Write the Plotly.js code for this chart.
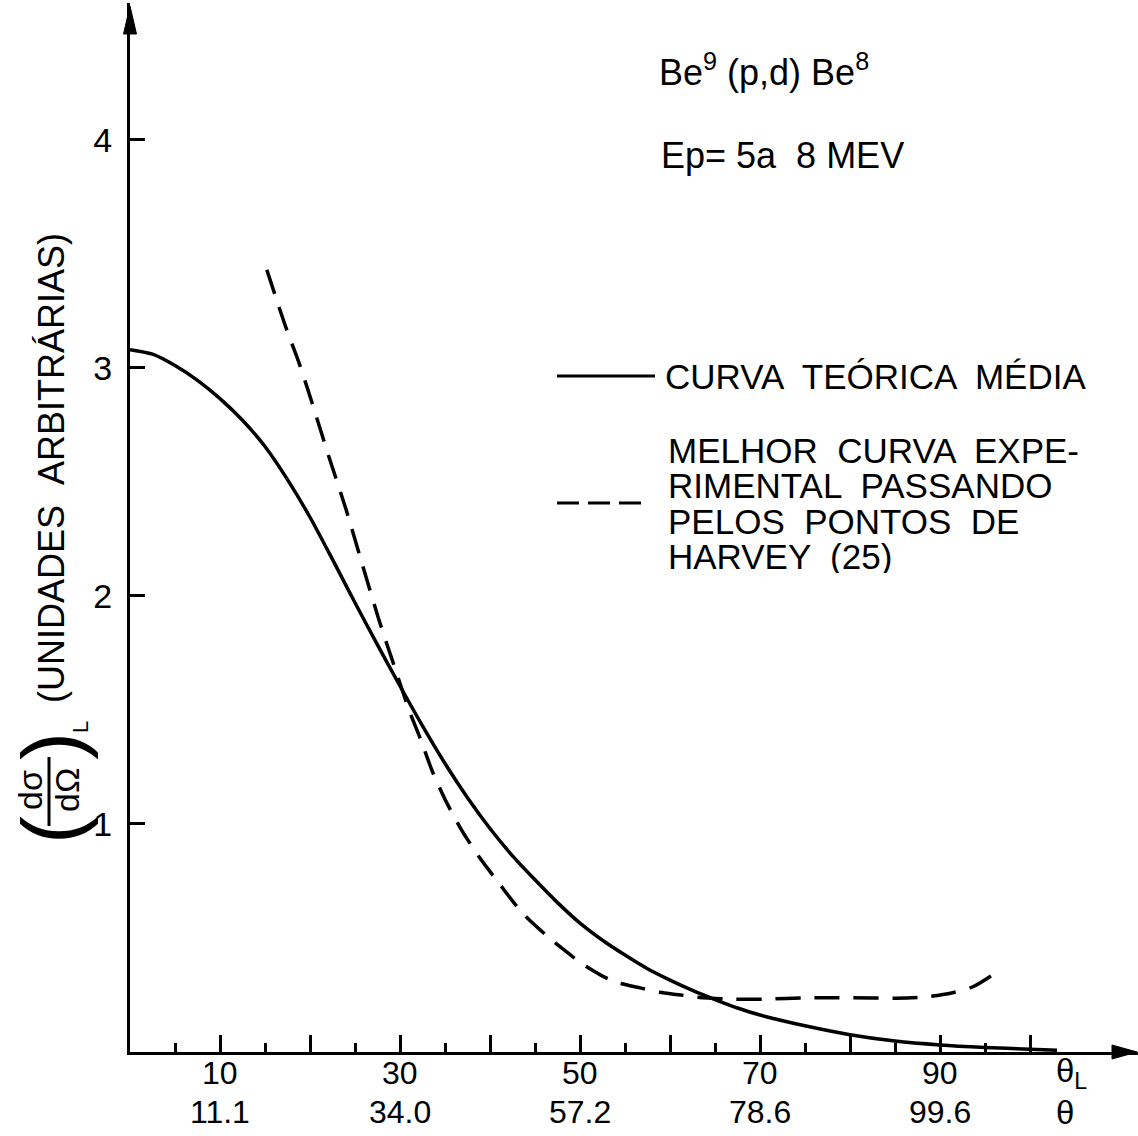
<!DOCTYPE html>
<html>
<head>
<meta charset="utf-8">
<script src="https://cdn.plot.ly/plotly-3.0.1.min.js"></script>
<style>html,body{margin:0;padding:0;background:#fff;overflow:hidden}#chart{width:1138px;height:1136px}</style>
</head>
<body>
<div id="chart"></div>
<script>
// ---- data ----
// Curva teórica média (solid)
const theoX = [0, 2.5, 5, 7.5, 10, 12.5, 15, 17.5, 20, 22.5, 25, 27.5, 30, 32.5, 35, 37.5, 40, 42.5, 45, 47.5, 50, 52.5, 55, 57.5, 60, 62.5, 65, 67.5, 70, 75, 80, 85, 90, 95, 100, 103];
const theoY = [3.08, 3.06, 3.01, 2.945, 2.865, 2.77, 2.655, 2.51, 2.345, 2.16, 1.97, 1.785, 1.605, 1.43, 1.265, 1.115, 0.98, 0.86, 0.755, 0.655, 0.565, 0.49, 0.425, 0.365, 0.315, 0.27, 0.23, 0.193, 0.162, 0.115, 0.076, 0.048, 0.031, 0.02, 0.012, 0.008];
// Melhor curva experimental (dashed)
const expX = [15.2, 17.3, 18.8, 20.2, 22.1, 24, 25.8, 27.7, 29.3, 31, 32.3, 33.6, 35.1, 36.9, 38.8, 41, 43.6, 46.6, 48.8, 50.1, 52.4, 54.1, 56.8, 58.8, 61.2, 63, 66.6, 70.7, 75, 80, 85, 88.5, 91.4, 93.6, 96.3];
const expY = [3.43, 3.18, 3.02, 2.85, 2.61, 2.38, 2.14, 1.89, 1.70, 1.50, 1.37, 1.23, 1.10, 0.97, 0.855, 0.74, 0.61, 0.50, 0.43, 0.39, 0.335, 0.305, 0.28, 0.262, 0.25, 0.24, 0.232, 0.232, 0.237, 0.238, 0.236, 0.242, 0.26, 0.285, 0.35];
// tick labels
const thetaL = [10, 30, 50, 70, 90];
const thetaCM = ["11.1", "34.0", "57.2", "78.6", "99.6"];
const majorTicks = [10, 20, 30, 40, 50, 60, 70, 80, 90, 100];
const minorTicks = [5, 15, 25, 35, 45, 55, 65, 75, 85, 95];
const yTicks = [1, 2, 3, 4];

// ---- layout helpers (pixel -> paper) ----
const ML = 130, MT = 3, PW = 1008, PH = 1049, BASE = MT + PH;
const px = v => (v - ML) / PW;
const py = v => (BASE - v) / PH;
const FONT = "Liberation Sans, Arial, sans-serif";

const traces = [
  {x: theoX, y: theoY, mode: "lines", line: {color: "#000", width: 3.5, shape: "spline", smoothing: 0.8}, hoverinfo: "skip"},
  {x: expX, y: expY, mode: "lines", line: {color: "#000", width: 3.5, dash: "25px,14px", shape: "spline", smoothing: 0.8}, hoverinfo: "skip"}
];

function txt(text, x, y, size, opts) {
  return Object.assign({
    xref: "paper", yref: "paper", x: px(x), y: py(y), text: text, showarrow: false,
    xanchor: "left", yanchor: "middle", font: {family: FONT, size: size, color: "#000"}
  }, opts || {});
}

const annotations = [
  txt("Be<sup>9</sup> (p,d) Be<sup>8</sup>", 657, 70, 36),
  txt("Ep= 5a \u00a08 MEV", 659, 156, 36),
  txt("CURVA \u00a0TEÓRICA \u00a0MÉDIA", 663, 376, 35),
  txt("MELHOR \u00a0CURVA \u00a0EXPE-", 666, 450, 35, {height: 34}),
  txt("RIMENTAL \u00a0PASSANDO", 666, 485, 35, {height: 34}),
  txt("PELOS \u00a0PONTOS \u00a0DE", 666, 521, 35, {height: 34}),
  txt("HARVEY \u00a0(25)", 666, 556, 35, {height: 34}),
  // right-end axis labels
  txt("θ<sub>L</sub>", 1054, 1073, 33),
  txt("θ", 1054, 1112, 33),
  // y-axis title pieces (rotated)
  txt("(UNIDADES \u00a0ARBITRÁRIAS)", 51, 468, 36, {xanchor: "center", textangle: -90}),
  txt("L", 80, 727, 22, {xanchor: "center", textangle: -90}),
  txt(")", 52, 746, 84, {xanchor: "center", textangle: -90}),
  txt("(", 52, 830, 84, {xanchor: "center", textangle: -90}),
  txt("dσ", 30, 790, 34, {xanchor: "center", textangle: -90}),
  txt("dΩ", 67, 790, 34, {xanchor: "center", textangle: -90})
];
// x tick labels: laboratory angle row and CM angle row
thetaL.forEach((v, i) => {
  annotations.push({xref: "x", yref: "paper", x: v, y: py(1073), text: String(v), showarrow: false,
    xanchor: "center", yanchor: "middle", font: {family: FONT, size: 32, color: "#000"}});
  annotations.push({xref: "x", yref: "paper", x: v, y: py(1112), text: thetaCM[i], showarrow: false,
    xanchor: "center", yanchor: "middle", font: {family: FONT, size: 32, color: "#000"}});
});

// arrowheads as filled triangles (pixel geometry converted to paper)
function tri(p) {
  const d = "M" + p.map(q => px(q[0]) + "," + py(q[1])).join(" L") + " Z";
  return {type: "path", xref: "paper", yref: "paper", path: d, fillcolor: "#000", line: {color: "#000", width: 1}};
}

const shapes = [
  {type: "line", xref: "paper", yref: "paper", x0: px(557), x1: px(655), y0: py(376), y1: py(376), line: {color: "#000", width: 3}},
  {type: "line", xref: "paper", yref: "paper", x0: px(557), x1: px(650), y0: py(503), y1: py(503), line: {color: "#000", width: 3, dash: "22px,9px"}},
  {type: "line", xref: "paper", yref: "paper", x0: px(49), x1: px(49), y0: py(757), y1: py(826), line: {color: "#000", width: 3}},
  tri([[130, 6], [123.5, 34], [136.5, 34]]),
  tri([[1137, 1052], [1112, 1045], [1112, 1059]])
];

const layout = {
  width: 1138, height: 1136,
  margin: {l: ML, r: 1138 - ML - PW, t: MT, b: 1136 - BASE},
  paper_bgcolor: "#fff", plot_bgcolor: "#fff",
  showlegend: false,
  xaxis: {
    range: [0, 112], showgrid: false, zeroline: false,
    showline: true, linecolor: "#000", linewidth: 3,
    tickmode: "array", tickvals: majorTicks, showticklabels: false,
    ticks: "inside", ticklen: 17, tickwidth: 3, tickcolor: "#000",
    minor: {tickmode: "array", tickvals: minorTicks, ticks: "inside", ticklen: 9, tickwidth: 3, tickcolor: "#000", showgrid: false}
  },
  yaxis: {
    range: [0, 4.6], showgrid: false, zeroline: false,
    showline: true, linecolor: "#000", linewidth: 3,
    tickmode: "array", tickvals: yTicks, ticktext: yTicks.map(String),
    ticks: "inside", ticklen: 15, tickwidth: 3, tickcolor: "#000",
    ticklabelstandoff: 8,
    tickfont: {family: FONT, size: 34, color: "#000"}
  },
  annotations: annotations,
  shapes: shapes
};

Plotly.newPlot("chart", traces, layout, {staticPlot: true, displayModeBar: false});
</script>
</body>
</html>
